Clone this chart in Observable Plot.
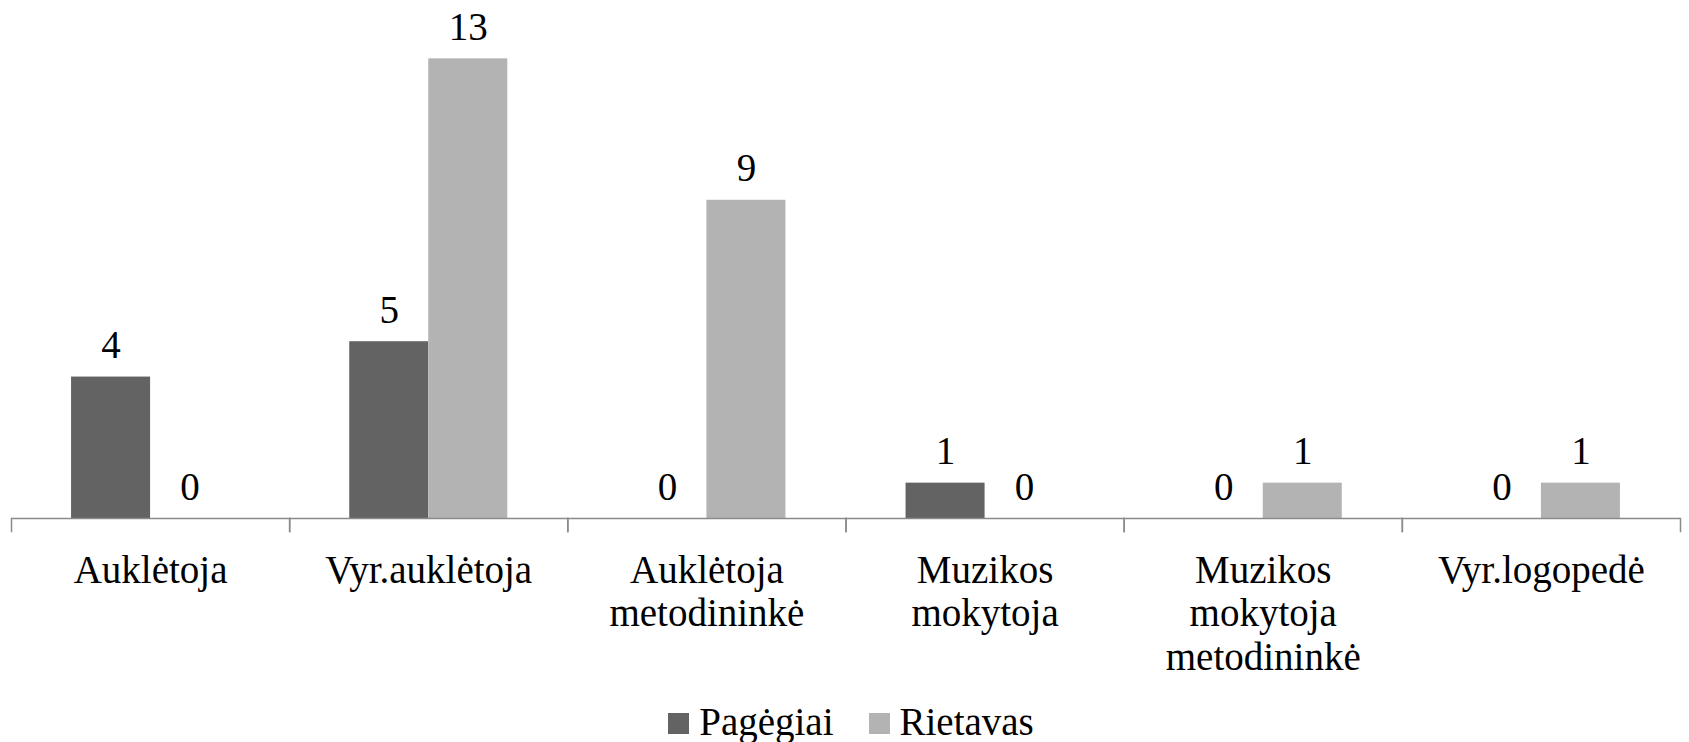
<!DOCTYPE html>
<html>
<head>
<meta charset="utf-8">
<script src="https://cdn.jsdelivr.net/npm/d3@7"></script>
<script src="https://cdn.jsdelivr.net/npm/@observablehq/plot@0.6"></script>
<style>
  html, body { margin: 0; padding: 0; background: #fff; }
  body { width: 1689px; height: 742px; overflow: hidden; font-family: "Liberation Serif", serif; }
  #chart svg { display: block; }
  #legend { display: flex; justify-content: center; align-items: flex-start; padding-top: 8px; padding-left: 13px; gap: 35px; font-size: 39px; line-height: 43px; color: #000; }
  .item { display: flex; align-items: center; }
  .sw { width: 21px; height: 21px; margin-right: 10px; margin-top: 4px; }
</style>
</head>
<body>
<div id="chart"></div>
<div id="legend"></div>
<script>
const categories = ["Auklėtoja", "Vyr.auklėtoja", "Auklėtoja\nmetodininkė", "Muzikos\nmokytoja", "Muzikos\nmokytoja\nmetodininkė", "Vyr.logopedė"];
const series = ["Pagėgiai", "Rietavas"];
const pagegiai = [4, 5, 0, 1, 0, 0];
const rietavas = [0, 13, 9, 0, 1, 1];
const colors = ["#636363", "#b3b3b3"];

const data = [];
categories.forEach((c, i) => {
  data.push({cat: c, series: series[0], value: pagegiai[i]});
  data.push({cat: c, series: series[1], value: rietavas[i]});
});

const W = 1689, H = 692, MT = 23, MB = H - 531, ML = 11, MR = 9;
const tickLen = 13;
const innerH = H - MT - MB;
const font = "'Liberation Serif', serif";
const fs = 39;

const chart = Plot.plot({
  width: W,
  height: H,
  marginTop: MT,
  marginBottom: MB,
  marginLeft: ML,
  marginRight: MR,
  style: {fontFamily: font, background: "#fff"},
  fx: {domain: categories, padding: 0, round: false, label: null},
  x: {domain: series, paddingInner: 0, paddingOuter: 0.76, round: false, axis: null},
  y: {domain: [0, 14], insetBottom: tickLen, axis: null},
  color: {domain: series, range: colors},
  marks: [
    Plot.barY(data, {fx: "cat", x: "series", y: "value", fill: "series"}),
    Plot.ruleY([0], {stroke: "#8a8a8a", strokeWidth: 1.5}),
    Plot.frame({anchor: "left", insetTop: innerH - tickLen, stroke: "#8a8a8a", strokeWidth: 1.5}),
    Plot.frame({anchor: "right", insetTop: innerH - tickLen, stroke: "#8a8a8a", strokeWidth: 1.5}),
    Plot.text(data, {fx: "cat", x: "series", y: "value", text: d => String(d.value), dy: -19, lineAnchor: "bottom", fontSize: fs, fontFamily: font, fill: "#000"}),
    Plot.axisFx({anchor: "bottom", tickSize: 0, tickPadding: 20, fontSize: fs, fontFamily: font, lineHeight: 1.12, label: null, fill: "#000"})
  ]
});
document.getElementById("chart").appendChild(chart);

const legend = document.getElementById("legend");
series.forEach((s, i) => {
  const item = document.createElement("div");
  item.className = "item";
  const sw = document.createElement("div");
  sw.className = "sw";
  sw.style.background = colors[i];
  const t = document.createElement("span");
  t.textContent = s;
  item.appendChild(sw);
  item.appendChild(t);
  legend.appendChild(item);
});
</script>
</body>
</html>
